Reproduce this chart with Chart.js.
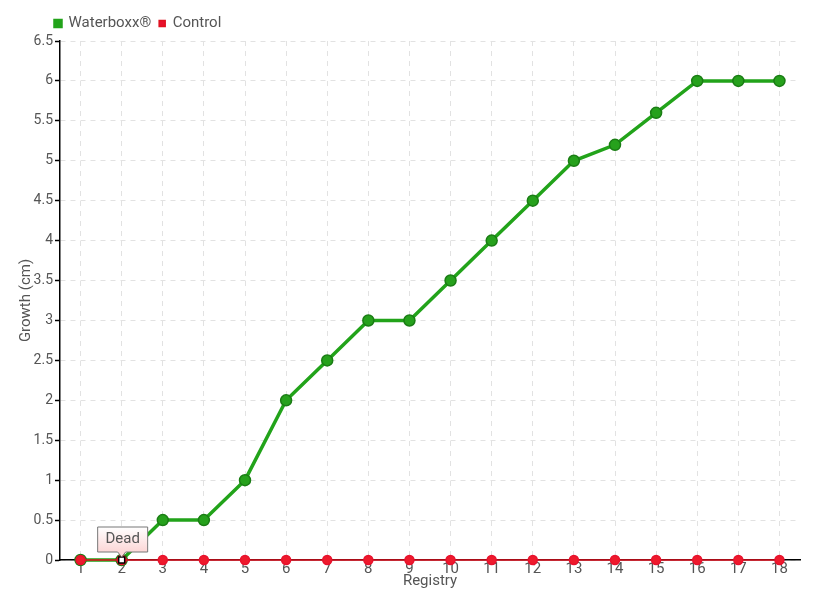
<!DOCTYPE html>
<html>
<head>
<meta charset="utf-8">
<script src="https://cdn.jsdelivr.net/npm/chart.js@4/dist/chart.umd.min.js"></script>
<style>
  body { margin: 0; background: #fff; }
  #wrap { width: 820px; height: 600px; }
</style>
</head>
<body>
<div id="wrap"><canvas id="growthChart" width="820" height="600"></canvas></div>
<script>
// Data
const registry = ['1', '2', '3', '4', '5', '6', '7', '8', '9', '10', '11', '12', '13', '14', '15', '16', '17', '18'];
const waterboxx = [0, 0, 0.5, 0.5, 1, 2, 2.5, 3, 3, 3.5, 4, 4.5, 5, 5.2, 5.6, 6, 6, 6];
const control = [0, 0, 0, 0, 0, 0, 0, 0, 0, 0, 0, 0, 0, 0, 0, 0, 0, 0];
const deadIndex = 1;
const deadLabel = 'Dead';

const FONT = "Roboto, 'Liberation Sans', sans-serif";
const TEXT = '#555';

// Draws the "Dead" callout over the control point
const deadPlugin = {
    id: 'deadCallout',
    afterLayout(chart) {
        // push the legend to the right like the original
        chart.legend.left += 30;
    },
    afterDatasetsDraw(chart) {
        const ctx = chart.ctx;
        const meta = chart.getDatasetMeta(1);
        const pt = meta.data[deadIndex];
        const x = pt.x, y = pt.y;

        // white square marker
        ctx.save();
        ctx.fillStyle = '#fff';
        ctx.strokeStyle = '#000';
        ctx.lineWidth = 1.5;
        ctx.fillRect(x - 3, y - 3, 6, 6);
        ctx.strokeRect(x - 3, y - 3, 6, 6);

        // callout box
        const w = 50, h = 25;
        const left = x - 24, top = y - 33;
        const grad = ctx.createLinearGradient(0, top, 0, top + h);
        grad.addColorStop(0, '#ffffff');
        grad.addColorStop(1, '#fcd6d6');
        ctx.beginPath();
        ctx.moveTo(left, top);
        ctx.lineTo(left + w, top);
        ctx.lineTo(left + w, top + h);
        ctx.lineTo(x + 4, top + h);
        ctx.lineTo(x, top + h + 5);
        ctx.lineTo(x - 4, top + h);
        ctx.lineTo(left, top + h);
        ctx.closePath();
        ctx.fillStyle = grad;
        ctx.fill();
        ctx.strokeStyle = '#777';
        ctx.lineWidth = 1;
        ctx.stroke();

        ctx.fillStyle = TEXT;
        ctx.font = '15px ' + FONT;
        ctx.textAlign = 'center';
        ctx.textBaseline = 'middle';
        ctx.fillText(deadLabel, left + w / 2, top + h / 2);
        ctx.restore();
    }
};

const ctx = document.getElementById('growthChart').getContext('2d');
const chart = new Chart(ctx, {
    type: 'line',
    data: {
        labels: registry,
        datasets: [
            {
                label: 'Waterboxx®',
                data: waterboxx,
                order: 1,
                borderColor: '#22a31a',
                backgroundColor: '#22a31a',
                pointBackgroundColor: '#26a11c',
                pointBorderColor: '#1a7d14',
                pointBorderWidth: 1.5,
                borderWidth: 3.5,
                pointRadius: 5.5,
                tension: 0,
                clip: 8
            },
            {
                label: 'Control',
                data: control,
                order: 0,
                borderColor: '#e0101f',
                backgroundColor: '#e8112d',
                pointBackgroundColor: '#ee1a2c',
                pointBorderColor: '#e8112d',
                borderWidth: 1.5,
                pointRadius: 4.5,
                tension: 0,
                clip: 8
            }
        ]
    },
    options: {
        responsive: false,
        animation: false,
        layout: { padding: { left: 17, right: 20, top: 8, bottom: 10 } },
        plugins: {
            legend: {
                position: 'top',
                align: 'start',
                labels: {
                    boxWidth: 6,
                    boxHeight: 6,
                    padding: 8,
                    color: TEXT,
                    font: { family: FONT, size: 15 },
                    sort: (a, b) => a.datasetIndex - b.datasetIndex
                }
            },
            tooltip: { enabled: false }
        },
        scales: {
            x: {
                offset: true,
                afterFit: s => { s.height = 30; },
                title: {
                    display: true,
                    text: 'Registry',
                    color: TEXT,
                    padding: 0,
                    font: { family: FONT, size: 15 }
                },
                grid: {
                    color: '#e2e2e2',
                    drawTicks: false
                },
                border: { color: '#000', width: 1.5, dash: [5, 5] },
                ticks: {
                    color: TEXT,
                    padding: 0,
                    font: { family: FONT, size: 15 }
                }
            },
            y: {
                min: 0,
                max: 6.5,
                afterFit: s => { s.width = 43; },
                title: {
                    display: true,
                    text: 'Growth (cm)',
                    color: TEXT,
                    padding: 0,
                    font: { family: FONT, size: 15 }
                },
                grid: {
                    color: '#e2e2e2',
                    tickColor: '#000',
                    tickLength: 5,
                    tickBorderDash: [],
                    tickWidth: 1.5
                },
                border: { color: '#000', width: 1.5, dash: [5, 5] },
                ticks: {
                    stepSize: 0.5,
                    color: TEXT,
                    padding: 2,
                    font: { family: FONT, size: 14 },
                    callback: v => String(Math.round(v * 10) / 10)
                }
            }
        }
    },
    plugins: [deadPlugin]
});
</script>
</body>
</html>
